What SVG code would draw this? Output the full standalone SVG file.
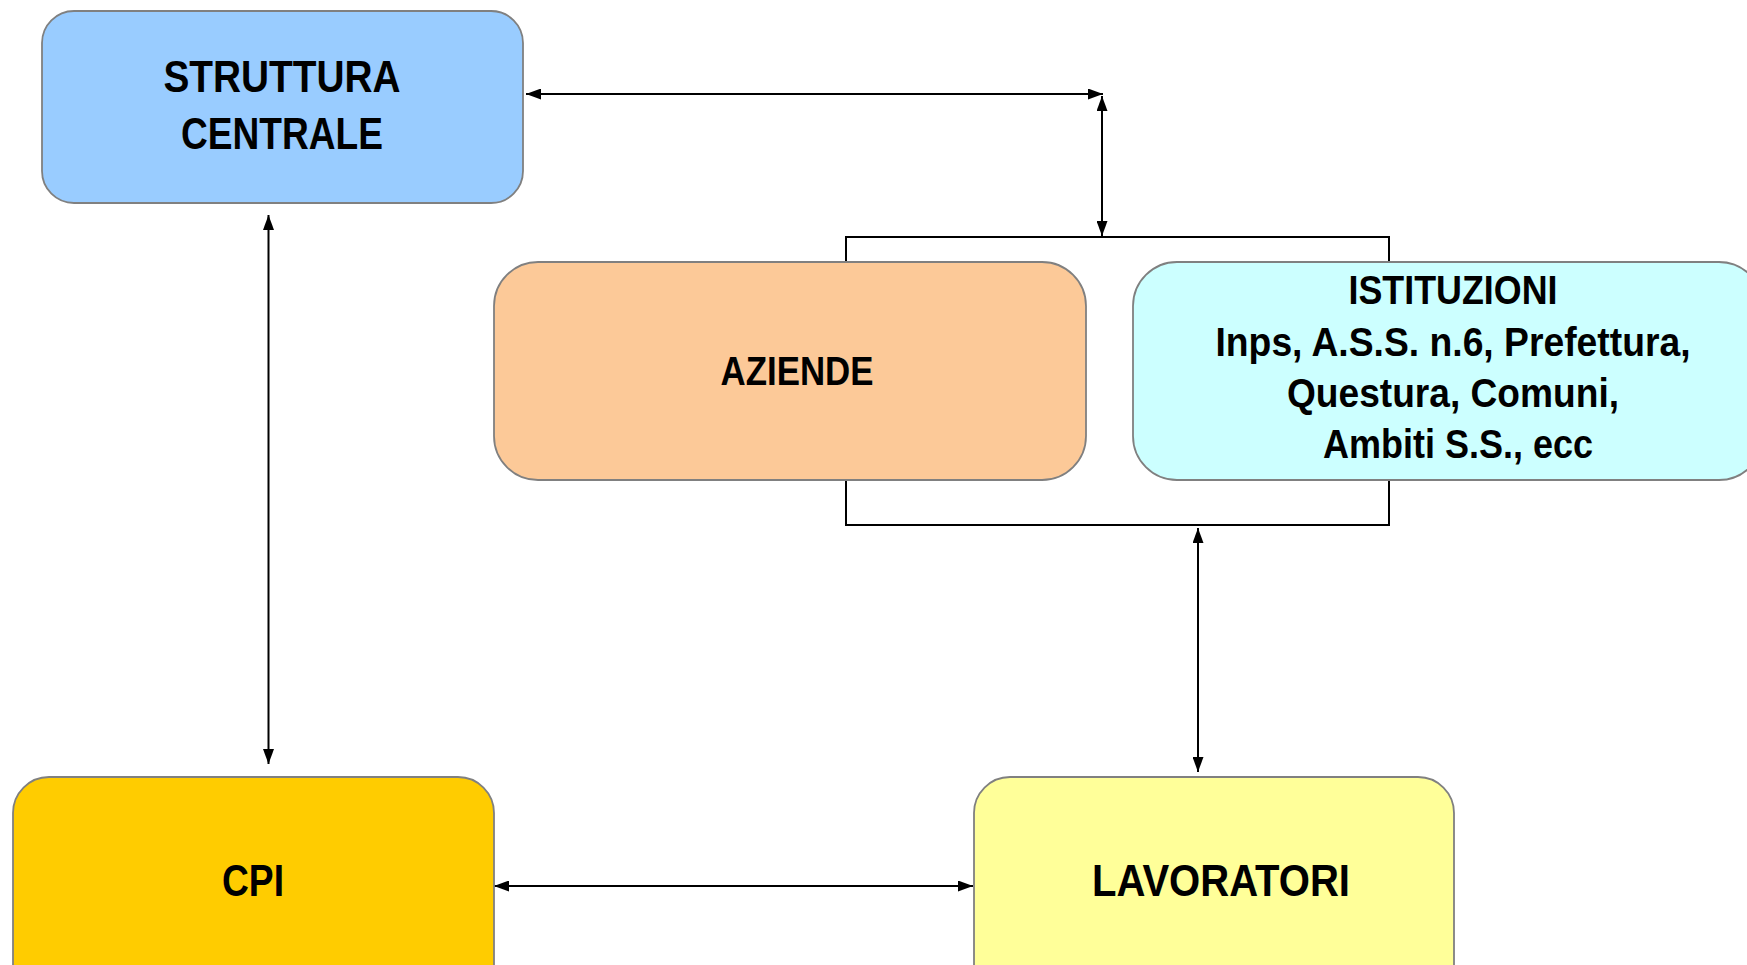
<svg xmlns="http://www.w3.org/2000/svg" width="1747" height="965" viewBox="0 0 1747 965">
<style>
.box{stroke:#808080;stroke-width:1.8}
.t{font-family:"Liberation Sans",Arial,sans-serif;font-weight:bold;fill:#000;text-anchor:middle}
.big{font-size:44px}
.mid{font-size:40px}
.ln{fill:none;stroke:#000;stroke-width:2}
</style>
<defs>
<marker id="ah" viewBox="0 0 15 11" refX="15" refY="5.5" markerWidth="15" markerHeight="11" markerUnits="userSpaceOnUse" orient="auto-start-reverse">
<path d="M0,0 L15,5.5 L0,11 z" fill="#000"/>
</marker>
</defs>
<rect width="1747" height="965" fill="#fff"/>
<g id="connectors">
<line class="ln" x1="526" y1="94" x2="1103" y2="94" marker-start="url(#ah)" marker-end="url(#ah)"/>
<line class="ln" x1="1102" y1="96" x2="1102" y2="236" marker-start="url(#ah)" marker-end="url(#ah)"/>
<polyline class="ln" points="846,262 846,237 1389,237 1389,262"/>
<polyline class="ln" points="846,480 846,525 1389,525 1389,480"/>
<line class="ln" x1="1198" y1="528" x2="1198" y2="772" marker-start="url(#ah)" marker-end="url(#ah)"/>
<line class="ln" x1="268.5" y1="215" x2="268.5" y2="764" marker-start="url(#ah)" marker-end="url(#ah)"/>
<line class="ln" x1="494" y1="886" x2="973" y2="886" marker-start="url(#ah)" marker-end="url(#ah)"/>
</g>
<g id="struttura">
<rect class="box" x="42" y="11" width="481" height="192" rx="32" fill="#99CCFF"/>
<text class="t big" x="282" y="92" textLength="237" lengthAdjust="spacingAndGlyphs">STRUTTURA</text>
<text class="t big" x="282" y="149" textLength="202" lengthAdjust="spacingAndGlyphs">CENTRALE</text>
</g>
<g id="aziende">
<rect class="box" x="494" y="262" width="592" height="218" rx="44" fill="#FCC998"/>
<text class="t mid" x="797" y="385" textLength="153" lengthAdjust="spacingAndGlyphs">AZIENDE</text>
</g>
<g id="istituzioni">
<rect class="box" x="1133" y="262" width="630" height="218" rx="44" fill="#CCFFFF"/>
<text class="t mid" x="1453" y="304" textLength="209" lengthAdjust="spacingAndGlyphs">ISTITUZIONI</text>
<text class="t mid" x="1453" y="355.5" textLength="475" lengthAdjust="spacingAndGlyphs">Inps, A.S.S. n.6, Prefettura,</text>
<text class="t mid" x="1453" y="407" textLength="332" lengthAdjust="spacingAndGlyphs">Questura, Comuni,</text>
<text class="t mid" x="1458" y="458" textLength="270" lengthAdjust="spacingAndGlyphs">Ambiti S.S., ecc</text>
</g>
<g id="cpi">
<rect class="box" x="13" y="777" width="481" height="230" rx="36" fill="#FFCC00"/>
<text class="t big" x="253" y="896" textLength="62" lengthAdjust="spacingAndGlyphs">CPI</text>
</g>
<g id="lavoratori">
<rect class="box" x="974" y="777" width="480" height="230" rx="36" fill="#FFFF99"/>
<text class="t big" x="1221" y="896" textLength="258" lengthAdjust="spacingAndGlyphs">LAVORATORI</text>
</g>
</svg>
